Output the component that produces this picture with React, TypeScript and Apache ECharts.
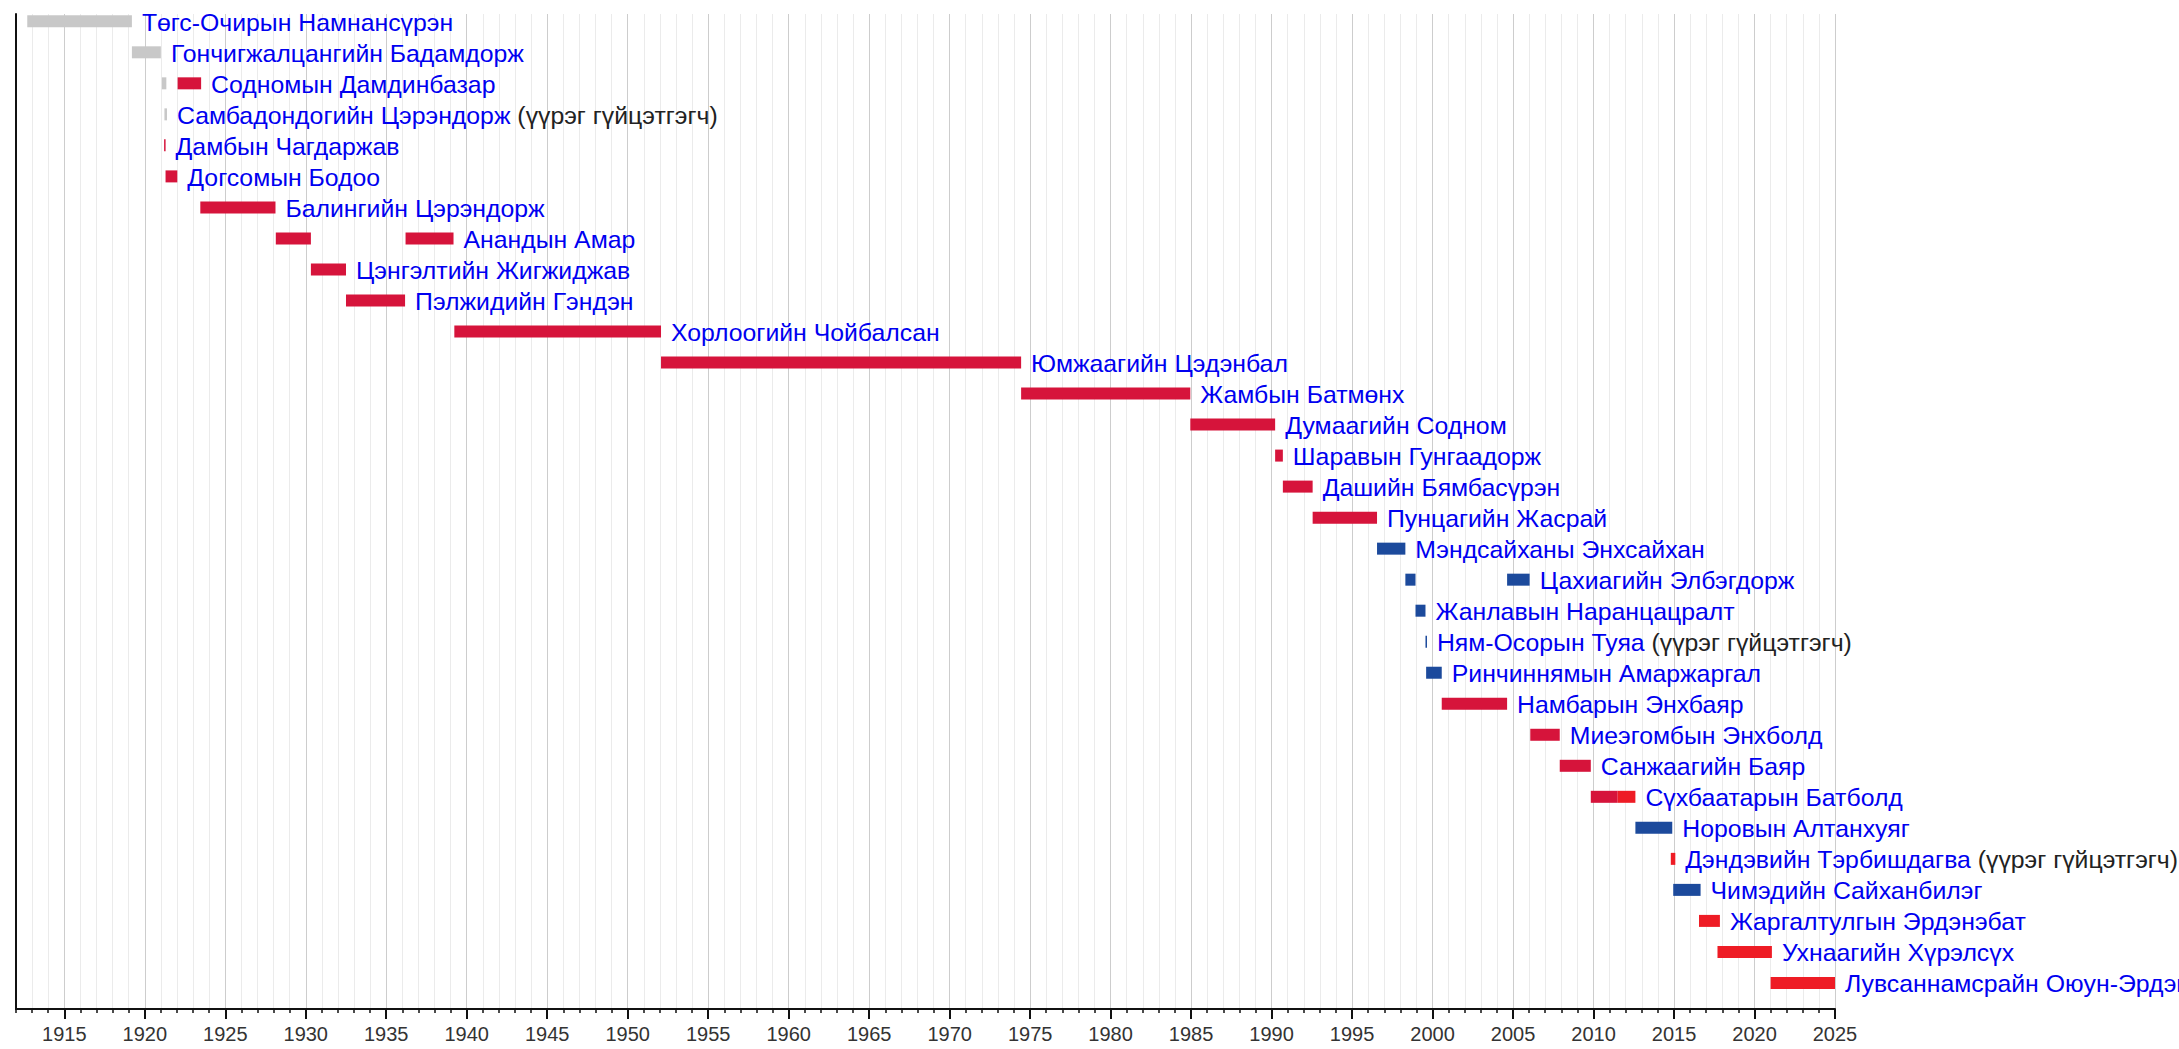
import { useEffect, useRef } from "react";
import * as echarts from "echarts";

// ---- data ----
const names = [
  "Төгс-Очирын Намнансүрэн",
  "Гончигжалцангийн Бадамдорж",
  "Содномын Дамдинбазар",
  "Самбадондогийн Цэрэндорж",
  "Дамбын Чагдаржав",
  "Догсомын Бодоо",
  "Балингийн Цэрэндорж",
  "Анандын Амар",
  "Цэнгэлтийн Жигжиджав",
  "Пэлжидийн Гэндэн",
  "Хорлоогийн Чойбалсан",
  "Юмжаагийн Цэдэнбал",
  "Жамбын Батмөнх",
  "Думаагийн Содном",
  "Шаравын Гунгаадорж",
  "Дашийн Бямбасүрэн",
  "Пунцагийн Жасрай",
  "Мэндсайханы Энхсайхан",
  "Цахиагийн Элбэгдорж",
  "Жанлавын Наранцацралт",
  "Ням-Осорын Туяа",
  "Ринчиннямын Амаржаргал",
  "Намбарын Энхбаяр",
  "Миеэгомбын Энхболд",
  "Санжаагийн Баяр",
  "Сүхбаатарын Батболд",
  "Норовын Алтанхуяг",
  "Дэндэвийн Тэрбишдагва",
  "Чимэдийн Сайханбилэг",
  "Жаргалтулгын Эрдэнэбат",
  "Ухнаагийн Хүрэлсүх",
  "Лувсаннамсрайн Оюун-Эрдэнэ",
];

const actingRows = [3, 20, 27];
const actingNote = "(үүрэг гүйцэтгэгч)";

// [row, start year, end year]
const grayTerms = [
  [0, 1912.7, 1919.2],
  [1, 1919.2, 1921.0],
  [2, 1921.06, 1921.34],
  [3, 1921.22, 1921.38],
];

const crimsonTerms = [
  [2, 1922.04, 1923.5],
  [4, 1921.2, 1921.29],
  [5, 1921.29, 1922.02],
  [6, 1923.45, 1928.12],
  [7, 1928.14, 1930.32],
  [7, 1936.2, 1939.18],
  [8, 1930.32, 1932.5],
  [9, 1932.5, 1936.17],
  [10, 1939.23, 1952.07],
  [11, 1952.07, 1974.44],
  [12, 1974.44, 1984.95],
  [13, 1984.95, 1990.22],
  [14, 1990.22, 1990.7],
  [15, 1990.7, 1992.55],
  [16, 1992.55, 1996.55],
  [22, 2000.57, 2004.63],
  [23, 2006.07, 2007.9],
  [24, 2007.9, 2009.83],
  [25, 2009.83, 2011.5],
];

const redTerms = [
  [25, 2011.5, 2012.6],
  [27, 2014.8, 2015.08],
  [29, 2016.55, 2017.85],
  [30, 2017.7, 2021.08],
  [31, 2021.0, 2025.0],
];

const blueTerms = [
  [17, 1996.55, 1998.31],
  [18, 1998.31, 1998.94],
  [18, 2004.63, 2006.03],
  [19, 1998.94, 1999.56],
  [20, 1999.56, 1999.65],
  [21, 1999.6, 2000.57],
  [26, 2012.6, 2014.89],
  [28, 2014.95, 2016.65],
];

const yearMin = 1912;
const yearMax = 2025;
const labelYearMin = 1915;

// ---- styles ----
const W = 2179;
const H = 1049;
const GRID_LEFT = 16;
const GRID_RIGHT_X = 1835;
const GRID_TOP = 14;
const GRID_BOTTOM_Y = 1009;
const BAR_H = 12;
const FONT = "'Liberation Sans', Arial, Helvetica, sans-serif";
const NAME_SIZE = 24.8;

const COLORS = {
  gray: "#c8c8c8",
  crimson: "#d6143b",
  red: "#ee1c25",
  blue: "#1c4a9c",
};

export default function App() {
  const ref = useRef<HTMLDivElement>(null);

  useEffect(() => {
    if (!ref.current) return;
    const chart = echarts.init(ref.current, undefined, { renderer: "svg" });

    const allTerms = [...grayTerms, ...crimsonTerms, ...redTerms, ...blueTerms];
    const rowEnd = names.map((_, i) =>
      Math.max(...allTerms.filter((t) => t[0] === i).map((t) => t[2]))
    );

    const pxPerYear = (GRID_RIGHT_X - GRID_LEFT) / (yearMax - yearMin);
    const grid2Left = GRID_LEFT + (labelYearMin - yearMin) * pxPerYear;

    const barRender = (color: string) => (params: any, api: any) => {
      const s = api.coord([api.value(1), api.value(0)]);
      const e = api.coord([api.value(2), api.value(0)]);
      return {
        type: "rect",
        shape: {
          x: s[0],
          y: s[1] - BAR_H / 2,
          width: Math.max(e[0] - s[0], 1.5),
          height: BAR_H,
        },
        style: { fill: color },
      };
    };

    const barSeries = (data: number[][], color: string) => ({
      type: "custom",
      xAxisIndex: 0,
      yAxisIndex: 0,
      clip: false,
      silent: true,
      data,
      renderItem: barRender(color),
    });

    const option: any = {
      animation: false,
      backgroundColor: "#ffffff",
      grid: [
        {
          left: GRID_LEFT,
          right: W - GRID_RIGHT_X,
          top: GRID_TOP,
          bottom: H - GRID_BOTTOM_Y,
        },
        {
          left: grid2Left,
          right: W - GRID_RIGHT_X,
          top: GRID_TOP,
          bottom: H - GRID_BOTTOM_Y,
        },
      ],
      xAxis: [
        {
          type: "value",
          gridIndex: 0,
          min: yearMin,
          max: yearMax,
          interval: 1,
          axisLine: {
            show: true,
            onZero: false,
            lineStyle: { color: "#111", width: 2 },
          },
          axisTick: {
            show: true,
            length: 4,
            lineStyle: { color: "#111", width: 1.5 },
          },
          axisLabel: { show: false },
          splitLine: {
            show: true,
            lineStyle: { color: "#ebebeb", width: 1 },
          },
        },
        {
          type: "value",
          gridIndex: 1,
          min: labelYearMin,
          max: yearMax,
          interval: 5,
          axisLine: { show: false, onZero: false },
          axisTick: {
            show: true,
            length: 10,
            lineStyle: { color: "#111", width: 2 },
          },
          axisLabel: {
            show: true,
            margin: 15,
            color: "#333",
            fontSize: 20,
            fontFamily: FONT,
            showMinLabel: true,
            showMaxLabel: true,
            formatter: (v: number) => String(v),
          },
          splitLine: {
            show: true,
            lineStyle: { color: "#cdcdcd", width: 1 },
          },
        },
      ],
      yAxis: [
        {
          type: "value",
          gridIndex: 0,
          inverse: true,
          min: -0.235,
          max: 31.84,
          axisLine: {
            show: true,
            onZero: false,
            lineStyle: { color: "#111", width: 2 },
          },
          axisTick: { show: false },
          axisLabel: { show: false },
          splitLine: { show: false },
        },
        {
          type: "value",
          gridIndex: 1,
          inverse: true,
          min: -0.235,
          max: 31.84,
          show: false,
          splitLine: { show: false },
        },
      ],
      series: [
        barSeries(grayTerms, COLORS.gray),
        barSeries(crimsonTerms, COLORS.crimson),
        barSeries(redTerms, COLORS.red),
        barSeries(blueTerms, COLORS.blue),
        {
          type: "custom",
          xAxisIndex: 0,
          yAxisIndex: 0,
          clip: false,
          silent: true,
          data: names.map((_, i) => [rowEnd[i], i]),
          renderItem: (params: any, api: any) => {
            const p = api.coord([api.value(0), api.value(1)]);
            const i = params.dataIndex;
            const acting = actingRows.includes(i);
            return {
              type: "text",
              x: p[0] + 10,
              y: p[1] + 1,
              style: {
                text: acting
                  ? `{n|${names[i]}} {s|${actingNote}}`
                  : `{n|${names[i]}}`,
                fontFamily: FONT,
                fontSize: NAME_SIZE,
                verticalAlign: "middle",
                align: "left",
                fill: "#0000ff",
                rich: {
                  n: { fill: "#0000f0", fontFamily: FONT, fontSize: NAME_SIZE },
                  s: { fill: "#222222", fontFamily: FONT, fontSize: NAME_SIZE },
                },
              },
            };
          },
        },
      ],
    };

    chart.setOption(option);
    return () => chart.dispose();
  }, []);

  return (
    <div
      ref={ref}
      style={{
        position: "fixed",
        left: 0,
        top: 0,
        width: W,
        height: H,
        background: "#fff",
      }}
    />
  );
}
